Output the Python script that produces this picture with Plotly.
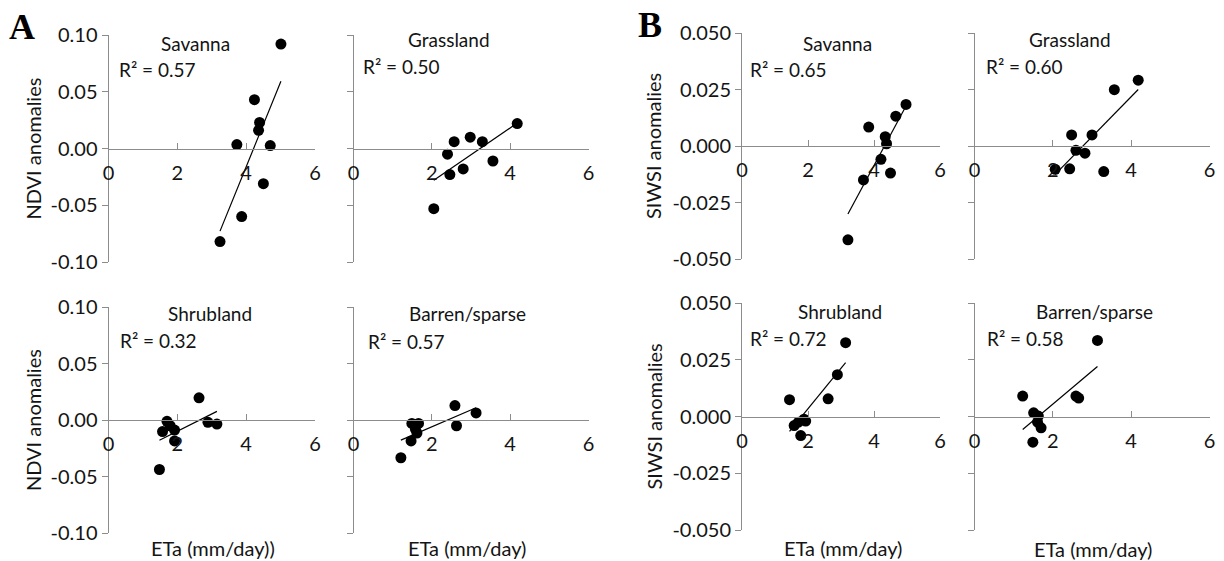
import numpy as np
import plotly.graph_objects as go

W, H = 1224, 561

# ---------------- data ----------------
A_sav_x = [5.01, 4.24, 4.39, 4.36, 3.73, 4.70, 4.50, 3.87, 3.24]
A_sav_y = [0.092, 0.043, 0.023, 0.016, 0.0035, 0.0026, -0.031, -0.060, -0.082]

A_gra_x = [4.18, 2.98, 2.57, 3.29, 2.40, 3.56, 2.80, 2.46, 2.05]
A_gra_y = [0.022, 0.010, 0.006, 0.006, -0.005, -0.011, -0.018, -0.023, -0.053]

A_shr_x = [2.63, 1.70, 1.79, 1.57, 1.92, 1.92, 2.89, 3.15, 1.48]
A_shr_y = [0.0196, -0.0012, -0.0051, -0.0102, -0.0089, -0.0185, -0.0021, -0.0036, -0.0438]

A_bar_x = [2.59, 3.13, 2.63, 1.49, 1.66, 1.58, 1.62, 1.47, 1.21]
A_bar_y = [0.0128, 0.0063, -0.0051, -0.003, -0.003, -0.008, -0.0116, -0.0185, -0.0334]

B_sav_x = [4.97, 4.66, 3.84, 4.34, 4.38, 4.21, 4.50, 3.68, 3.21]
B_sav_y = [0.0184, 0.0132, 0.0084, 0.0041, 0.0010, -0.0059, -0.012, -0.015, -0.0415]

B_gra_x = [4.18, 3.57, 2.48, 3.00, 2.59, 2.82, 2.06, 2.43, 3.30]
B_gra_y = [0.0291, 0.0249, 0.0049, 0.0049, -0.0019, -0.0032, -0.0103, -0.0101, -0.0113]

B_shr_x = [3.14, 2.89, 2.61, 1.44, 1.88, 1.71, 1.58, 1.78, 1.93]
B_shr_y = [0.0325, 0.0184, 0.0078, 0.0074, -0.0012, -0.0025, -0.004, -0.0084, -0.002]

B_bar_x = [3.14, 1.23, 2.59, 2.66, 1.51, 1.63, 1.61, 1.70, 1.49]
B_bar_y = [0.0335, 0.009, 0.009, 0.0081, 0.0016, 0.0002, -0.0025, -0.005, -0.0113]

titles = ["Savanna", "Grassland", "Shrubland", "Barren/sparse",
          "Savanna", "Grassland", "Shrubland", "Barren/sparse"]
r2_labels = ["R² = 0.57", "R² = 0.50", "R² = 0.32", "R² = 0.57",
             "R² = 0.65", "R² = 0.60", "R² = 0.72", "R² = 0.58"]
x_tick_vals = [0, 2, 4, 6]
x_tick_text = ["0", "2", "4", "6"]
A_y_vals = [-0.10, -0.05, 0.0, 0.05, 0.10]
A_y_text = ["-0.10", "-0.05", "0.00", "0.05", "0.10"]
B_y_vals = [-0.050, -0.025, 0.0, 0.025, 0.050]
B_y_text = ["-0.050", "-0.025", "0.000", "0.025", "0.050"]
y_titles = ["NDVI anomalies", "SIWSI anomalies"]
x_titles = ["ETa (mm/day))", "ETa (mm/day)", "ETa (mm/day)", "ETa (mm/day)"]
panel_letters = ["A", "B"]

series = [(A_sav_x, A_sav_y), (A_gra_x, A_gra_y), (A_shr_x, A_shr_y), (A_bar_x, A_bar_y),
          (B_sav_x, B_sav_y), (B_gra_x, B_gra_y), (B_shr_x, B_shr_y), (B_bar_x, B_bar_y)]

# ---------------- layout geometry (pixels) ----------------
def px(x):
    return x / W

def py(y):
    return 1 - y / H

cols = [(108.5, 315), (353.5, 588.5), (742, 940), (974.5, 1209.5)]
rows = {("A", 0): (35, 262), ("A", 1): (307, 533), ("B", 0): (33, 259), ("B", 1): (303, 530)}

panel_cfg = []
for g, grp in enumerate(["A", "B"]):
    for r in range(2):
        for c in range(2):
            panel_cfg.append((grp, r, c + 2 * g))

FONT = "Lato, 'Open Sans', sans-serif"
TXT = "#141414"
AX = "#8c8c8c"

fig = go.Figure()
layout = dict(
    width=W, height=H,
    margin=dict(l=0, r=0, t=0, b=0, pad=0, autoexpand=False),
    paper_bgcolor="white", plot_bgcolor="white",
    showlegend=False,
    font=dict(family=FONT, size=18, color=TXT),
)

for i, ((xs, ys), (grp, r, ci)) in enumerate(zip(series, panel_cfg)):
    n = i + 1
    xa = "x" if n == 1 else f"x{n}"
    ya = "y" if n == 1 else f"y{n}"
    xs_a = np.array(xs)
    ys_a = np.array(ys)
    fig.add_trace(go.Scatter(x=xs, y=ys, mode="markers", xaxis=xa, yaxis=ya,
                             marker=dict(color="black", size=11), cliponaxis=False))
    k, b = np.polyfit(xs_a, ys_a, 1)
    lx = np.array([xs_a.min(), xs_a.max()])
    fig.add_trace(go.Scatter(x=lx, y=k * lx + b, mode="lines", xaxis=xa, yaxis=ya,
                             line=dict(color="black", width=1.2)))

    x0, x1 = cols[ci]
    top, bot = rows[(grp, r)]
    left_col = ci in (0, 2)
    yv, yt = (A_y_vals, A_y_text) if grp == "A" else (B_y_vals, B_y_text)
    yr = [-0.10, 0.10] if grp == "A" else [-0.05, 0.05]

    layout["xaxis" if n == 1 else f"xaxis{n}"] = dict(
        domain=[px(x0), px(x1)], range=[0, 6], anchor="free",
        position=py((top + bot) / 2),
        showline=True, linecolor=AX, linewidth=1,
        ticks="inside", ticklen=6, tickcolor=AX, tickwidth=1,
        tickvals=x_tick_vals, ticktext=x_tick_text,
        tickfont=dict(family=FONT, size=20, color=TXT),
        ticklabelstandoff=6, automargin=False,
        showgrid=False, zeroline=False, fixedrange=True,
    )
    layout["yaxis" if n == 1 else f"yaxis{n}"] = dict(
        domain=[py(bot), py(top)], range=yr, anchor=xa,
        showline=True, linecolor=AX, linewidth=1,
        ticks="outside", ticklen=6, tickcolor=AX, tickwidth=1,
        tickvals=yv, ticktext=yt, showticklabels=left_col,
        tickfont=dict(family=FONT, size=20, color=TXT), automargin=False,
        showgrid=False, zeroline=False, fixedrange=True,
    )

annotations = []
title_pos = [(196, 43), (449, 40), (210, 313), (467, 313),
             (837, 43), (1070, 39), (840, 311), (1094, 311)]
r2_pos = [(117, 70), (361, 67), (118, 340), (366, 341),
          (748, 70), (984, 67), (748, 338), (985, 338)]
for t, (cx, cy) in zip(titles, title_pos):
    annotations.append(dict(text=t, x=px(cx), y=py(cy), xref="paper", yref="paper",
                            xanchor="center", yanchor="middle", showarrow=False,
                            font=dict(family=FONT, size=19, color=TXT)))
for t, (lx, cy) in zip(r2_labels, r2_pos):
    annotations.append(dict(text=t, x=px(lx), y=py(cy), xref="paper", yref="paper",
                            xanchor="left", yanchor="middle", showarrow=False,
                            font=dict(family=FONT, size=19, color=TXT)))
ytitle_pos = [(33, 148.5), (33, 420), (653, 146), (653, 416.5)]
for (cx, cy), t in zip(ytitle_pos, [y_titles[0], y_titles[0], y_titles[1], y_titles[1]]):
    annotations.append(dict(text=t, x=px(cx), y=py(cy), xref="paper", yref="paper",
                            xanchor="center", yanchor="middle", textangle=-90, showarrow=False,
                            font=dict(family=FONT, size=20, color=TXT)))
xtitle_pos = [(213, 548), (467, 548), (843, 548), (1093, 549)]
for (cx, cy), t in zip(xtitle_pos, x_titles):
    annotations.append(dict(text=t, x=px(cx), y=py(cy), xref="paper", yref="paper",
                            xanchor="center", yanchor="middle", showarrow=False,
                            font=dict(family=FONT, size=20, color=TXT)))
for (cx, cy), t in zip([(22, 27), (650, 25)], panel_letters):
    annotations.append(dict(text=f"<b>{t}</b>", x=px(cx), y=py(cy), xref="paper", yref="paper",
                            xanchor="center", yanchor="middle", showarrow=False,
                            font=dict(family="'Liberation Serif', 'DejaVu Serif', serif", size=36, color="black")))

layout["annotations"] = annotations
fig.update_layout(**layout)
fig.write_html("out.html", config={"displayModeBar": False},
               post_script="document.body.style.margin='0px';document.body.style.overflow='hidden';")
